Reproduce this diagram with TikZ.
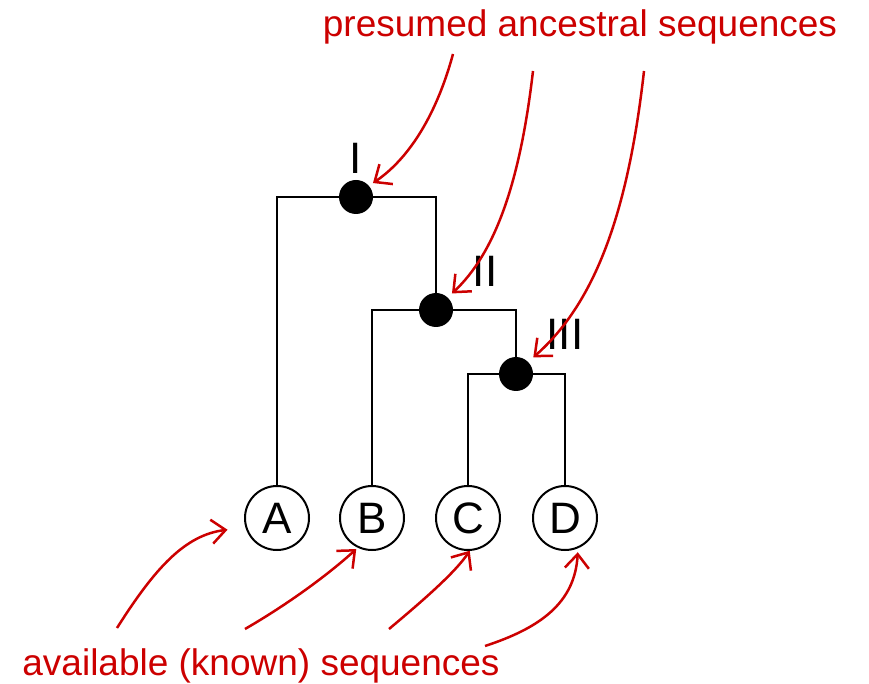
\documentclass[tikz,border=0pt]{standalone}
\usepackage{fontspec}
\setmainfont{Liberation Sans}
\usetikzlibrary{arrows.meta}
\definecolor{annot}{RGB}{204,0,0}
\begin{document}
\begin{tikzpicture}[x=1pt,y=1pt,
  leaf/.style={circle,draw=black,line width=2pt,minimum size=64pt,inner sep=0pt,outer sep=0pt,
    font=\fontsize{44}{44}\selectfont},
  anc/.style={circle,fill=black,minimum size=34pt,inner sep=0pt,outer sep=0pt},
  anclabel/.style={inner sep=0pt,font=\fontsize{44}{44}\selectfont},
  branch/.style={line width=2pt,black},
  note/.style={text=annot,inner sep=0pt,anchor=base,font=\fontsize{37}{37}\selectfont},
  pointer/.style={annot,line width=2.5pt,-{Straight Barb[length=14pt,width=24pt]}}]
\useasboundingbox (0,0) rectangle (869,683);

% leaves (known sequences)
\node[leaf] (A) at (277,165) {A};
\node[leaf] (B) at (372,165) {B};
\node[leaf] (C) at (468,165) {C};
\node[leaf] (D) at (565,165) {D};

% ancestral nodes
\node[anc] (n1) at (356,486) {};
\node[anc] (n2) at (436,373) {};
\node[anc] (n3) at (516,309) {};
\node[anclabel] (l1) at (356,525) {I};
\node[anclabel] (l2) at (485,412) {II};
\node[anclabel] (l3) at (565,349) {III};

% tree branches
\draw[branch] (A) |- (n1) -| (n2);
\draw[branch] (B) |- (n2) -| (n3);
\draw[branch] (C) |- (n3) -| (D);

% annotations
\node[note] (top) at (580,646) {presumed ancestral sequences};
\node[note] (bottom) at (261,8) {available (known) sequences};

\coordinate (p1) at (453,629);
\coordinate (p2) at (533,612);
\coordinate (p3) at (644,612);
\coordinate (q1) at (117,55);
\coordinate (q2) at (245,54);
\coordinate (q3) at (389,54);
\coordinate (q4) at (485,37);

\draw[pointer,shorten >=5pt] (p1) .. controls (437,570) and (410,525) .. (n1.41);
\draw[pointer,shorten >=6pt] (p2) .. controls (520,500) and (495,430) .. (n2.47);
\draw[pointer,shorten >=7pt] (p3) .. controls (628,470) and (595,380) .. (n3.45);

\draw[pointer,shorten >=19pt] (q1) .. controls (155,115) and (185,148) .. (A.197);
\draw[pointer,shorten >=3pt] (q2) .. controls (290,80) and (330,110) .. (B.245);
\draw[pointer,shorten >=1pt] (q3) .. controls (420,80) and (455,110) .. (C.274);
\draw[pointer,shorten >=5pt] (q4) .. controls (540,55) and (575,80) .. (D.294);
\end{tikzpicture}
\end{document}
